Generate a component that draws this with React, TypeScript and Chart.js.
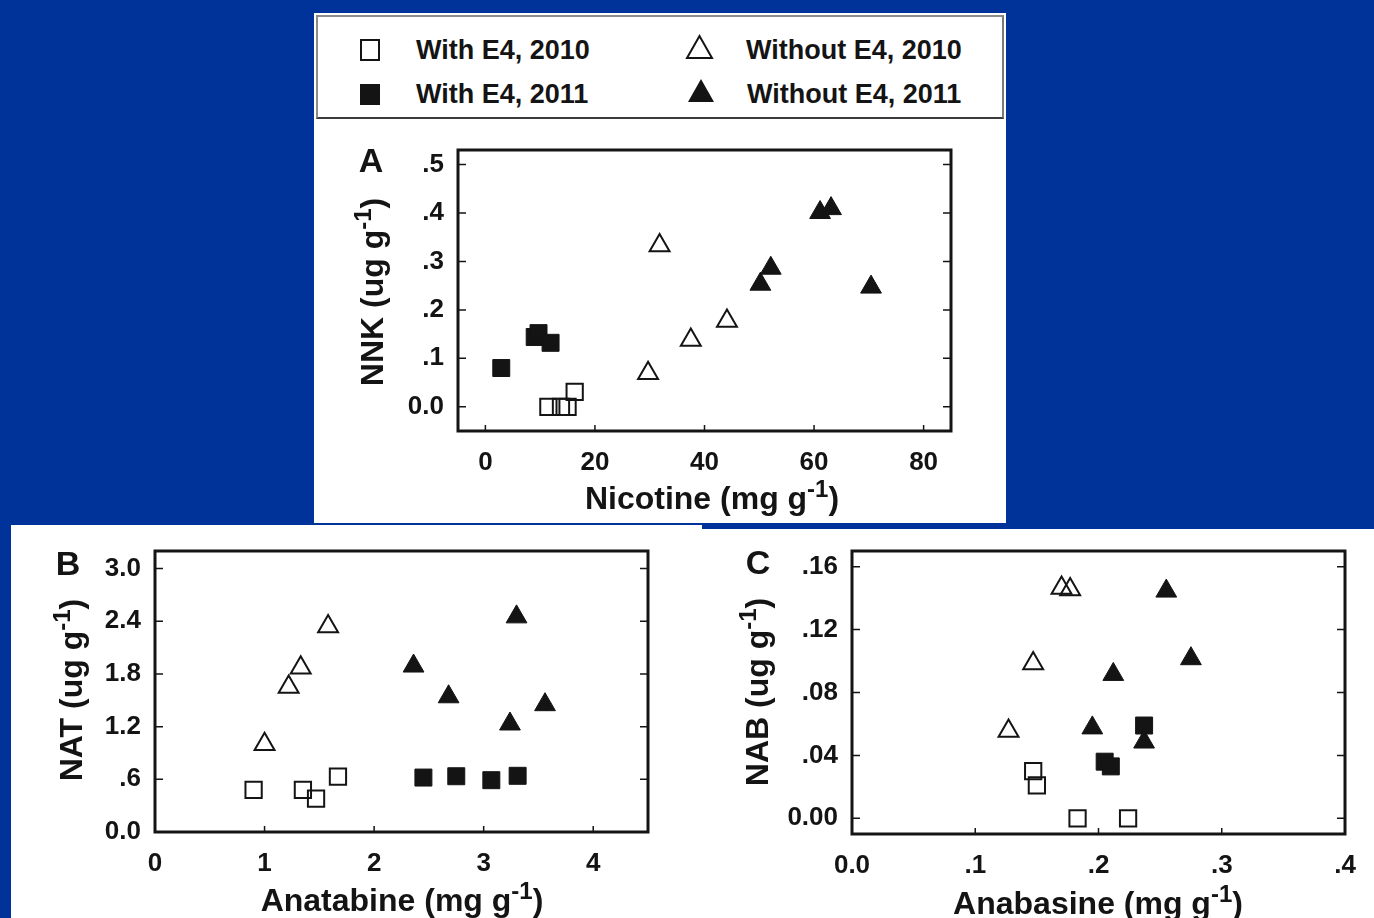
import React, { useEffect, useRef } from "react";
import { Chart, registerables } from "chart.js";

Chart.register(...registerables);

const FONT = '"Liberation Sans", Arial, Helvetica, sans-serif';
const INK = "#141414";
const BLUE = "#003399";

// ---------- Panel A: Nicotine vs NNK ----------
const A_WITH_2010_X = [11.5, 13.8, 15.0, 16.3];
const A_WITH_2010_Y = [0, 0, 0, 0.031];
const A_WITH_2011_X = [2.9, 9.0, 9.7, 11.9];
const A_WITH_2011_Y = [0.08, 0.144, 0.152, 0.132];
const A_WITHOUT_2010_X = [29.7, 31.8, 37.5, 44.1];
const A_WITHOUT_2010_Y = [0.069, 0.333, 0.138, 0.177];
const A_WITHOUT_2011_X = [50.2, 52.1, 61.1, 63.1, 70.4];
const A_WITHOUT_2011_Y = [0.253, 0.286, 0.401, 0.409, 0.247];
const A_X_TICKS = [0, 20, 40, 60, 80];
const A_X_LABELS = ["0", "20", "40", "60", "80"];
const A_Y_TICKS = [0, 0.1, 0.2, 0.3, 0.4, 0.5];
const A_Y_LABELS = ["0.0", ".1", ".2", ".3", ".4", ".5"];

// ---------- Panel B: Anatabine vs NAT ----------
const B_WITH_2010_X = [0.9, 1.35, 1.47, 1.67];
const B_WITH_2010_Y = [0.48, 0.48, 0.38, 0.63];
const B_WITH_2011_X = [2.45, 2.75, 3.07, 3.31];
const B_WITH_2011_Y = [0.62, 0.635, 0.59, 0.64];
const B_WITHOUT_2010_X = [1.0, 1.22, 1.33, 1.58];
const B_WITHOUT_2010_Y = [1.0, 1.65, 1.87, 2.34];
const B_WITHOUT_2011_X = [2.36, 2.68, 3.3, 3.24, 3.56];
const B_WITHOUT_2011_Y = [1.89, 1.54, 2.45, 1.23, 1.45];
const B_X_TICKS = [0, 1, 2, 3, 4];
const B_X_LABELS = ["0", "1", "2", "3", "4"];
const B_Y_TICKS = [0, 0.6, 1.2, 1.8, 2.4, 3.0];
const B_Y_LABELS = ["0.0", ".6", "1.2", "1.8", "2.4", "3.0"];

// ---------- Panel C: Anabasine vs NAB ----------
const C_WITH_2010_X = [0.147, 0.15, 0.183, 0.224];
const C_WITH_2010_Y = [0.03, 0.021, 0.0, 0.0];
const C_WITH_2011_X = [0.205, 0.21, 0.237];
const C_WITH_2011_Y = [0.036, 0.033, 0.059];
const C_WITHOUT_2010_X = [0.17, 0.177, 0.147, 0.127];
const C_WITHOUT_2010_Y = [0.1465, 0.1455, 0.0985, 0.0555];
const C_WITHOUT_2011_X = [0.255, 0.275, 0.212, 0.195, 0.237];
const C_WITHOUT_2011_Y = [0.1445, 0.1015, 0.0915, 0.0575, 0.0485];
const C_X_TICKS = [0, 0.1, 0.2, 0.3, 0.4];
const C_X_LABELS = ["0.0", ".1", ".2", ".3", ".4"];
const C_Y_TICKS = [0, 0.04, 0.08, 0.12, 0.16];
const C_Y_LABELS = ["0.00", ".04", ".08", ".12", ".16"];

const LEGEND_LABELS = ["With E4, 2010", "With E4, 2011", "Without E4, 2010", "Without E4, 2011"];

type Group = { x: number[]; y: number[] };
type PanelSpec = {
  left: number; top: number; w: number; h: number;
  pad: { left: number; right: number; top: number; bottom: number };
  xMin: number; xMax: number; yMin: number; yMax: number;
  xTicks: number[]; xLabels: string[]; yTicks: number[]; yLabels: string[];
  groups: Group[];
};

const PANEL_A: PanelSpec = {
  left: 314, top: 120, w: 692, h: 403,
  pad: { left: 44, right: 55, top: 30, bottom: 32 },
  xMin: -5, xMax: 85, yMin: -0.05, yMax: 0.53,
  xTicks: A_X_TICKS, xLabels: A_X_LABELS, yTicks: A_Y_TICKS, yLabels: A_Y_LABELS,
  groups: [
    { x: A_WITH_2010_X, y: A_WITH_2010_Y },
    { x: A_WITH_2011_X, y: A_WITH_2011_Y },
    { x: A_WITHOUT_2010_X, y: A_WITHOUT_2010_Y },
    { x: A_WITHOUT_2011_X, y: A_WITHOUT_2011_Y },
  ],
};

const PANEL_B: PanelSpec = {
  left: 11, top: 525, w: 691, h: 393,
  pad: { left: 44, right: 54, top: 26, bottom: 26 },
  xMin: 0, xMax: 4.5, yMin: 0, yMax: 3.2,
  xTicks: B_X_TICKS, xLabels: B_X_LABELS, yTicks: B_Y_TICKS, yLabels: B_Y_LABELS,
  groups: [
    { x: B_WITH_2010_X, y: B_WITH_2010_Y },
    { x: B_WITH_2011_X, y: B_WITH_2011_Y },
    { x: B_WITHOUT_2010_X, y: B_WITHOUT_2010_Y },
    { x: B_WITHOUT_2011_X, y: B_WITHOUT_2011_Y },
  ],
};

const PANEL_C: PanelSpec = {
  left: 702, top: 529, w: 672, h: 389,
  pad: { left: 50, right: 29, top: 22, bottom: 24 },
  xMin: 0, xMax: 0.4, yMin: -0.01, yMax: 0.17,
  xTicks: C_X_TICKS, xLabels: C_X_LABELS, yTicks: C_Y_TICKS, yLabels: C_Y_LABELS,
  groups: [
    { x: C_WITH_2010_X, y: C_WITH_2010_Y },
    { x: C_WITH_2011_X, y: C_WITH_2011_Y },
    { x: C_WITHOUT_2010_X, y: C_WITHOUT_2010_Y },
    { x: C_WITHOUT_2011_X, y: C_WITHOUT_2011_Y },
  ],
};

const GROUP_STYLES = [
  { pointStyle: "rect", radius: 11.5, fill: "rgba(0,0,0,0)", border: 2 },
  { pointStyle: "rect", radius: 12, fill: INK, border: 1 },
  { pointStyle: "triangle", radius: 11.5, fill: "rgba(0,0,0,0)", border: 2 },
  { pointStyle: "triangle", radius: 12, fill: INK, border: 1 },
];

const framePlugin = {
  id: "frameTicks",
  afterDraw(chart: any) {
    const { ctx, chartArea: a, scales } = chart;
    const xs = scales.x;
    const ys = scales.y;
    ctx.save();
    ctx.strokeStyle = INK;
    ctx.lineWidth = 1.5;
    ctx.beginPath();
    for (const t of ys.ticks) {
      const py = ys.getPixelForValue(t.value);
      if (Math.abs(py - a.bottom) < 3 || Math.abs(py - a.top) < 3) continue;
      ctx.moveTo(a.left, py);
      ctx.lineTo(a.left + 8, py);
      ctx.moveTo(a.right, py);
      ctx.lineTo(a.right - 8, py);
    }
    for (const t of xs.ticks) {
      const px = xs.getPixelForValue(t.value);
      if (Math.abs(px - a.left) < 3 || Math.abs(px - a.right) < 3) continue;
      ctx.moveTo(px, a.bottom);
      ctx.lineTo(px, a.bottom - 6);
    }
    ctx.stroke();
    ctx.lineWidth = 3;
    ctx.strokeRect(a.left, a.top, a.right - a.left, a.bottom - a.top);
    ctx.restore();
  },
};

function ScatterPanel({ spec }: { spec: PanelSpec }) {
  const ref = useRef<HTMLCanvasElement>(null);
  useEffect(() => {
    const tickFont = { family: FONT, size: 26, weight: "bold" as const };
    const chart = new Chart(ref.current as HTMLCanvasElement, {
      type: "scatter",
      data: {
        datasets: spec.groups.map((g, i) => ({
          data: g.x.map((x, k) => ({ x, y: g.y[k] })),
          pointStyle: GROUP_STYLES[i].pointStyle as any,
          pointRadius: GROUP_STYLES[i].radius,
          pointBackgroundColor: GROUP_STYLES[i].fill,
          pointBorderColor: INK,
          pointBorderWidth: GROUP_STYLES[i].border,
          showLine: false,
        })),
      },
      options: {
        animation: false,
        responsive: false,
        maintainAspectRatio: false,
        layout: { padding: spec.pad },
        plugins: { legend: { display: false }, tooltip: { enabled: false } },
        scales: {
          x: {
            type: "linear",
            position: "bottom",
            min: spec.xMin,
            max: spec.xMax,
            bounds: "data",
            grid: { display: false },
            border: { display: false },
            ticks: {
              font: tickFont,
              color: INK,
              padding: 8,
              maxRotation: 0,
              autoSkip: false,
              callback: (_v: any, i: number) => spec.xLabels[i],
            },
            afterBuildTicks: (sc: any) => {
              sc.ticks = spec.xTicks.map((v) => ({ value: v }));
            },
            afterFit: (sc: any) => {
              sc.height = 60;
            },
          },
          y: {
            type: "linear",
            position: "left",
            min: spec.yMin,
            max: spec.yMax,
            bounds: "data",
            grid: { display: false },
            border: { display: false },
            ticks: {
              font: tickFont,
              color: INK,
              padding: 6,
              autoSkip: false,
              callback: (_v: any, i: number) => spec.yLabels[i],
            },
            afterBuildTicks: (sc: any) => {
              sc.ticks = spec.yTicks.map((v) => ({ value: v }));
            },
            afterFit: (sc: any) => {
              sc.width = 100;
            },
          },
        },
      } as any,
      plugins: [framePlugin],
    });
    return () => chart.destroy();
  }, [spec]);
  return (
    <canvas
      ref={ref}
      width={spec.w}
      height={spec.h}
      style={{ position: "absolute", left: spec.left, top: spec.top, width: spec.w, height: spec.h }}
    />
  );
}

const TITLE_SIZE = 32;

function Title({ main, cx, baseline, rotate }: { main: string; cx: number; baseline: number; rotate?: boolean }) {
  const content = (
    <>
      {main}
      <span style={{ fontSize: "0.75em", position: "relative", top: "-0.5em" }}>-1</span>)
    </>
  );
  if (!rotate) {
    return (
      <div
        style={{
          position: "absolute",
          left: cx,
          top: baseline - 0.8465 * TITLE_SIZE,
          transform: "translateX(-50%)",
          whiteSpace: "nowrap",
          fontSize: TITLE_SIZE,
          lineHeight: 1,
          fontWeight: "bold",
          color: INK,
        }}
      >
        {content}
      </div>
    );
  }
  return (
    <div
      style={{
        position: "absolute",
        left: cx - 0.3465 * TITLE_SIZE,
        top: baseline,
        transform: "translate(-50%, -50%) rotate(-90deg)",
        whiteSpace: "nowrap",
        fontSize: TITLE_SIZE,
        lineHeight: 1,
        fontWeight: "bold",
        color: INK,
      }}
    >
      {content}
    </div>
  );
}

function Letter({ t, cx, cy }: { t: string; cx: number; cy: number }) {
  return (
    <div
      style={{
        position: "absolute",
        left: cx,
        top: cy,
        transform: "translate(-50%, -50%)",
        fontSize: 34,
        lineHeight: 1,
        fontWeight: "bold",
        color: INK,
      }}
    >
      {t}
    </div>
  );
}

function LegendText({ t, x, baseline }: { t: string; x: number; baseline: number }) {
  return (
    <div
      style={{
        position: "absolute",
        left: x,
        top: baseline - 0.8465 * 27,
        fontSize: 27,
        lineHeight: 1,
        fontWeight: "bold",
        color: INK,
        whiteSpace: "nowrap",
      }}
    >
      {t}
    </div>
  );
}

export default function App() {
  return (
    <div
      style={{
        position: "fixed",
        left: 0,
        top: 0,
        width: 1374,
        height: 918,
        background: BLUE,
        overflow: "hidden",
        fontFamily: FONT,
      }}
    >
      <div style={{ position: "absolute", left: 314, top: 13, width: 692, height: 510, background: "#fff" }} />
      <div style={{ position: "absolute", left: 11, top: 525, width: 691, height: 393, background: "#fff" }} />
      <div style={{ position: "absolute", left: 702, top: 529, width: 672, height: 389, background: "#fff" }} />

      <div
        style={{
          position: "absolute",
          left: 316,
          top: 15,
          width: 688,
          height: 104,
          boxSizing: "border-box",
          borderTop: "2px solid #8c8c8c",
          borderLeft: "2px solid #8c8c8c",
          borderRight: "2px solid #7a7a7a",
          borderBottom: "2px solid #3c3c3c",
        }}
      />
      <svg
        width={1374}
        height={918}
        style={{ position: "absolute", left: 0, top: 0, pointerEvents: "none" }}
      >
        <rect x={361} y={40} width={18} height={20} fill="none" stroke={INK} strokeWidth={2} />
        <rect x={360} y={84} width={20} height={21} fill={INK} />
        <polygon points="699.5,36 687,58 712,58" fill="none" stroke={INK} strokeWidth={2} strokeLinejoin="miter" />
        <polygon points="701,79 688,102 714,102" fill={INK} />
      </svg>
      <LegendText t={LEGEND_LABELS[0]} x={416} baseline={60} />
      <LegendText t={LEGEND_LABELS[1]} x={416} baseline={104} />
      <LegendText t={LEGEND_LABELS[2]} x={746} baseline={60} />
      <LegendText t={LEGEND_LABELS[3]} x={747} baseline={104} />

      <ScatterPanel spec={PANEL_A} />
      <ScatterPanel spec={PANEL_B} />
      <ScatterPanel spec={PANEL_C} />

      <Letter t="A" cx={371} cy={160} />
      <Letter t="B" cx={68} cy={563} />
      <Letter t="C" cx={758} cy={562} />

      <Title main="NNK (ug g" cx={383} baseline={292} rotate />
      <Title main="NAT (ug g" cx={82} baseline={690} rotate />
      <Title main="NAB (ug g" cx={768} baseline={692} rotate />

      <Title main="Nicotine (mg g" cx={712} baseline={509} />
      <Title main="Anatabine (mg g" cx={402} baseline={911} />
      <Title main="Anabasine (mg g" cx={1098} baseline={914} />
    </div>
  );
}
